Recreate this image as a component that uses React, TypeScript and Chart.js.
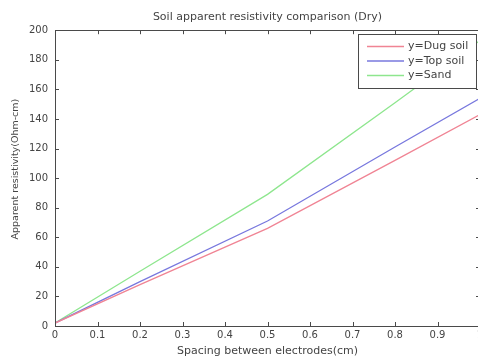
import React, { useEffect, useRef } from "react";
import { Chart, registerables } from "chart.js";

Chart.register(...registerables);

const chartTitle = "Soil apparent resistivity comparison (Dry)";
const xTitle = "Spacing between electrodes(cm)";
const yTitle = "Apparent resistivity(Ohm-cm)";
const spacing = [0, 0.2, 0.5, 0.8, 1.0];
const dugSoil = [2, 28, 66, 112, 143];
const topSoil = [2, 30, 71, 121, 154];
const sand = [2, 37, 89, 151, 193];
const seriesLabels = ["y=Dug soil", "y=Top soil", "y=Sand"];
const seriesColors = ["#f08494", "#7878de", "#8ee68e"];

const FONT = "'DejaVu Sans', sans-serif";
const AXIS = "#4a4a4a";
const TEXT = "#444";

const boxPlugin = {
  id: "matlabBox",
  afterDraw(chart: any) {
    const { ctx, chartArea: a, scales } = chart;
    const xs = scales.x;
    const ys = scales.y;
    ctx.save();
    ctx.strokeStyle = AXIS;
    ctx.lineWidth = 1;
    ctx.strokeRect(Math.round(a.left) + 0.5, Math.round(a.top) + 0.5, Math.round(a.right - a.left), Math.round(a.bottom - a.top));
    const tl = 4;
    ctx.beginPath();
    xs.ticks.forEach((t: any) => {
      const px = Math.round(xs.getPixelForValue(t.value)) + 0.5;
      ctx.moveTo(px, a.bottom);
      ctx.lineTo(px, a.bottom - tl);
      ctx.moveTo(px, a.top);
      ctx.lineTo(px, a.top + tl);
    });
    ys.ticks.forEach((t: any) => {
      const py = Math.round(ys.getPixelForValue(t.value)) + 0.5;
      ctx.moveTo(a.left, py);
      ctx.lineTo(a.left + tl, py);
      ctx.moveTo(a.right, py);
      ctx.lineTo(a.right - tl, py);
    });
    ctx.stroke();

    // y-axis title, placed like the MATLAB original
    ctx.save();
    ctx.translate(16, (a.top + a.bottom) / 2 - 9);
    ctx.rotate(-Math.PI / 2);
    ctx.font = "9.5px " + FONT;
    ctx.fillStyle = TEXT;
    ctx.textAlign = "center";
    ctx.textBaseline = "middle";
    ctx.fillText(yTitle, 0, 0);
    ctx.restore();

    const lx = 358, ly = 34, lw = 119, lh = 55;
    ctx.fillStyle = "#ffffff";
    ctx.fillRect(lx, ly, lw, lh);
    ctx.strokeStyle = AXIS;
    ctx.strokeRect(lx + 0.5, ly + 0.5, lw - 1, lh - 1);
    ctx.font = "11px " + FONT;
    ctx.textBaseline = "middle";
    ctx.textAlign = "left";
    chart.data.datasets.forEach((ds: any, i: number) => {
      const y = ly + 12.5 + i * 14.5;
      ctx.strokeStyle = ds.borderColor;
      ctx.lineWidth = 1.3;
      ctx.beginPath();
      ctx.moveTo(lx + 9, y);
      ctx.lineTo(lx + 46, y);
      ctx.stroke();
      ctx.fillStyle = TEXT;
      ctx.fillText(ds.label, lx + 50, y);
    });
    ctx.restore();
  },
};

export default function App() {
  const ref = useRef<HTMLCanvasElement | null>(null);
  useEffect(() => {
    if (!ref.current) return;
    const mk = (vals: number[]) => spacing.map((x, i) => ({ x, y: vals[i] }));
    const chart = new Chart(ref.current, {
      type: "line",
      data: {
        datasets: [dugSoil, topSoil, sand].map((v, i) => ({
          label: seriesLabels[i],
          data: mk(v),
          borderColor: seriesColors[i],
          backgroundColor: seriesColors[i],
          borderWidth: 1.3,
          pointRadius: 0,
          tension: 0,
          fill: false,
        })),
      },
      options: {
        responsive: false,
        animation: false,
        devicePixelRatio: 1,
        layout: { padding: { left: 0, right: 10, top: 0, bottom: 0 } },
        plugins: {
          legend: { display: false },
          tooltip: { enabled: false },
          title: {
            display: true,
            text: chartTitle,
            fullSize: false,
            color: TEXT,
            font: { family: FONT, size: 11, weight: "normal", lineHeight: 1.2 },
            padding: { top: 11, bottom: 6 },
          },
        },
        scales: {
          x: {
            type: "linear",
            min: 0,
            max: 1,
            grid: { display: false, drawTicks: false },
            border: { display: false },
            ticks: {
              stepSize: 0.1,
              autoSkip: false,
              maxRotation: 0,
              padding: 3,
              color: TEXT,
              font: { family: FONT, size: 10 },
              callback: (v: any) => String(Number(Number(v).toFixed(1))),
            },
            title: {
              display: true,
              text: xTitle,
              color: TEXT,
              font: { family: FONT, size: 11, lineHeight: 1.2 },
              padding: { top: 4, bottom: 1 },
            },
            afterFit: (s: any) => {
              s.height = 33;
              s.paddingLeft = 0;
              s.paddingRight = 0;
            },
          },
          y: {
            type: "linear",
            min: 0,
            max: 200,
            grid: { display: false, drawTicks: false },
            border: { display: false },
            ticks: {
              stepSize: 20,
              padding: 7,
              color: TEXT,
              font: { family: FONT, size: 10 },
            },
            title: { display: false },
            afterFit: (s: any) => {
              s.width = 55;
              s.paddingTop = 0;
              s.paddingBottom = 0;
            },
          },
        },
      },
      plugins: [boxPlugin],
    } as any);
    return () => chart.destroy();
  }, []);
  return (
    <div style={{ position: "fixed", left: 0, top: 0, width: 478, height: 359, overflow: "hidden", background: "#fff" }}>
      <canvas ref={ref} width={490} height={359} style={{ width: 490, height: 359, display: "block" }} />
    </div>
  );
}
